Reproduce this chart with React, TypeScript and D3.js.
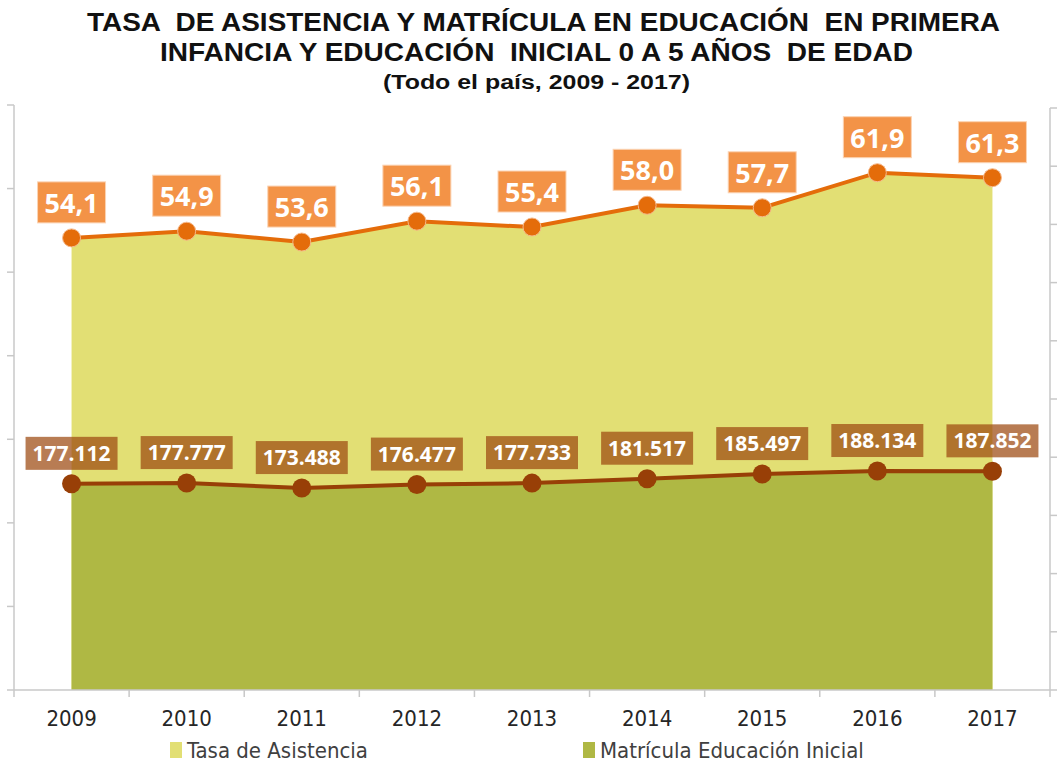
import React from 'react';
import * as d3 from 'd3';

const years = ['2009', '2010', '2011', '2012', '2013', '2014', '2015', '2016', '2017'];
const tasaAsistencia = [54.1, 54.9, 53.6, 56.1, 55.4, 58.0, 57.7, 61.9, 61.3];
const matricula = [177112, 177777, 173488, 176477, 177733, 181517, 185497, 188134, 187852];
const leftTicks = [0, 10, 20, 30, 40, 50, 60, 70];
const rightTicks = [0, 50000, 100000, 150000, 200000, 250000, 300000, 350000, 400000, 450000, 500000];
const titleLines = [
  'TASA  DE ASISTENCIA Y MATRÍCULA EN EDUCACIÓN  EN PRIMERA',
  'INFANCIA Y EDUCACIÓN  INICIAL 0 A 5 AÑOS  DE EDAD',
];
const subtitle = '(Todo el país, 2009 - 2017)';
const legendItems = ['Tasa de Asistencia', 'Matrícula Educación Inicial'];

const W = 1059;
const H = 763;
const baseY = 690;
const axisGray = '#c8c8c8';
const narrow = '"Liberation Sans Narrow", "DejaVu Sans Condensed", Arial, sans-serif';

export default function App() {
  const x = d3.scaleBand().domain(years).range([14, 1050]);
  const cx = (d: string) => (x(d) as number) + x.bandwidth() / 2;
  const yL = d3.scaleLinear().domain([0, 70]).range([baseY, 105]);
  const yR = d3.scaleLinear().domain([0, 500000]).range([baseY, 108]);

  const areaTasa = d3.area<number>()
    .x((_, i) => cx(years[i]))
    .y0(baseY)
    .y1(d => yL(d));
  const areaMat = d3.area<number>()
    .x((_, i) => cx(years[i]))
    .y0(baseY)
    .y1(d => yR(d));
  const lineTasa = d3.line<number>().x((_, i) => cx(years[i])).y(d => yL(d));
  const lineMat = d3.line<number>().x((_, i) => cx(years[i])).y(d => yR(d));

  const fmtTasa = (v: number) => d3.format('.1f')(v).replace('.', ',');
  const fmtMat = (v: number) => d3.format(',')(v).replace(/,/g, '.');

  return (
    <svg width={W} height={H} style={{ position: 'absolute', left: 0, top: 0, background: '#fff' }}>
      {/* title */}
      <g fontFamily='"Liberation Sans", Arial, sans-serif' fontWeight="bold" fill="#111" textAnchor="middle">
        <text x={543.5} y={31} fontSize={25} textLength={913} lengthAdjust="spacingAndGlyphs" style={{ whiteSpace: 'pre' }}>{titleLines[0]}</text>
        <text x={536.5} y={61} fontSize={25} textLength={753} lengthAdjust="spacingAndGlyphs" style={{ whiteSpace: 'pre' }}>{titleLines[1]}</text>
        <text x={536.5} y={89} fontSize={20} textLength={307} lengthAdjust="spacingAndGlyphs">{subtitle}</text>
      </g>

      {/* areas */}
      <path d={areaTasa(tasaAsistencia) as string} fill="#e2df74" />
      <path d={areaMat(matricula) as string} fill="#afb844" />

      {/* left axis */}
      <line x1={14} x2={14} y1={105} y2={baseY} stroke={axisGray} strokeWidth={1.5} />
      {leftTicks.map(t => (
        <line key={'l' + t} x1={7} x2={14} y1={yL(t)} y2={yL(t)} stroke={axisGray} strokeWidth={1.5} />
      ))}
      {/* right axis */}
      <line x1={1050} x2={1050} y1={108} y2={baseY} stroke={axisGray} strokeWidth={1.5} />
      {rightTicks.map(t => (
        <line key={'r' + t} x1={1050} x2={1057} y1={yR(t)} y2={yR(t)} stroke={axisGray} strokeWidth={1.5} />
      ))}
      {/* bottom axis */}
      <line x1={14} x2={1050} y1={baseY} y2={baseY} stroke={axisGray} strokeWidth={1.5} />
      {years.map(d => (
        <line key={'b' + d} x1={x(d) as number} x2={x(d) as number} y1={baseY} y2={baseY + 7} stroke={axisGray} strokeWidth={1.5} />
      ))}
      <line x1={1050} x2={1050} y1={baseY} y2={baseY + 7} stroke={axisGray} strokeWidth={1.5} />
      {years.map(d => (
        <text key={'y' + d} x={cx(d)} y={726} textAnchor="middle" fontFamily={narrow} fontSize={22} fill="#262626">{d}</text>
      ))}

      {/* lines */}
      <path d={lineTasa(tasaAsistencia) as string} fill="none" stroke="#e46c0a" strokeWidth={4} />
      <path d={lineMat(matricula) as string} fill="none" stroke="#983f07" strokeWidth={4} />
      {tasaAsistencia.map((v, i) => (
        <circle key={'ct' + i} cx={cx(years[i])} cy={yL(v)} r={9} fill="#e46c0a" stroke="#f6b88a" strokeWidth={1} />
      ))}
      {matricula.map((v, i) => (
        <circle key={'cm' + i} cx={cx(years[i])} cy={yR(v)} r={9.5} fill="#983f07" />
      ))}

      {/* labels */}
      {tasaAsistencia.map((v, i) => {
        const px = cx(years[i]);
        const py = yL(v);
        return (
          <g key={'lt' + i}>
            <rect x={px - 34} y={py - 56} width={68} height={41} fill="#f39347" stroke="#fbd3b3" strokeWidth={1} />
            <text x={px} y={py - 25} textAnchor="middle" fontFamily='"Open Sans", sans-serif' fontWeight="bold" fontSize={27} fill="#fff">{fmtTasa(v)}</text>
          </g>
        );
      })}
      {matricula.map((v, i) => {
        const px = cx(years[i]);
        const py = yR(v);
        return (
          <g key={'lm' + i}>
            <rect x={px - 46} y={py - 47} width={92} height={33} fill="#9c4a10" fillOpacity={0.72} />
            <text x={px} y={py - 23} textAnchor="middle" fontFamily='"Open Sans", sans-serif' fontWeight="bold" fontSize={21} fill="#fff">{fmtMat(v)}</text>
          </g>
        );
      })}

      {/* legend */}
      <rect x={170} y={742} width={12} height={16} fill="#e2df74" />
      <text x={187} y={758} fontFamily={narrow} fontSize={22} fill="#404040">{legendItems[0]}</text>
      <rect x={583} y={742} width={12} height={16} fill="#afb844" />
      <text x={600} y={758} fontFamily={narrow} fontSize={22} fill="#404040">{legendItems[1]}</text>
    </svg>
  );
}
